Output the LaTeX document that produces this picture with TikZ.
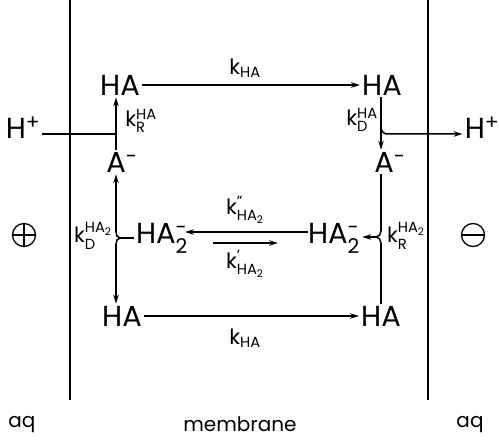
\documentclass[tikz,border=0pt]{standalone}
\usepackage{fontspec}
\setmainfont{Poppins}
\usepackage{amsmath}
\usetikzlibrary{arrows.meta,calc}
\tikzset{
  species/.style={inner sep=2pt, font=\fontsize{29}{33}\selectfont},
  ratelbl/.style={inner sep=1pt, font=\fontsize{21}{24}\selectfont},
  region/.style={inner sep=1pt, font=\fontsize{20}{24}\selectfont},
  conn/.style={line width=1.5pt},
  arr/.style={conn, -{Stealth[length=9pt,width=5.5pt]}},
  wall/.style={line width=1.2pt},
  charge/.style={draw, circle, line width=1.3pt, minimum size=23pt, inner sep=0pt}
}
\begin{document}
\begin{tikzpicture}[x=1pt,y=-1pt]
\useasboundingbox (0,0) rectangle (499,441);

% membrane walls
\coordinate (wLt) at (70,0);   \coordinate (wLb) at (70,400);
\coordinate (wRt) at (428,0);  \coordinate (wRb) at (428,400);
\draw[wall] (wLt) -- (wLb);
\draw[wall] (wRt) -- (wRb);

% species
\node[species] (haTL) at (120,85) {HA};
\node[species] (haTR) at (382,85) {HA};
\node[species] (amL) at (122,162) {A$^{\text{-}}$};
\node[species] (amR) at (390,162) {A$^{\text{-}}$};
\node[species] (hatwoL) at (162,238) {HA$^{\text{-}}_{\text{2}}$};
\node[species] (hatwoR) at (334,238) {HA$^{\text{-}}_{\text{2}}$};
\node[species] (haBL) at (122,316) {HA};
\node[species] (haBR) at (381,316) {HA};
\node[species] (hpL) at (23,128) {H$^{\text{+}}$};
\node[species] (hpR) at (482,128) {H$^{\text{+}}$};

% charges
\node[charge] (pos) at (24,235) {};
\draw[conn] (pos.north) -- (pos.south) (pos.west) -- (pos.east);
\node[charge] (neg) at (473,235) {};
\draw[conn] (neg.west) -- (neg.east);

% transport of HA across the membrane
\draw[arr] (haTL.east) -- (haTR.west);
\draw[arr] (haBL.east) -- (haBR.west);
\node[ratelbl] (kt) at (245,68) {k$_{\text{HA}}$};
\node[ratelbl] (kb) at (245,338) {k$_{\text{HA}}$};

% left interface: recombination
\coordinate (jTL) at (116,134);
\draw[arr] (amL.north -| jTL) -- (haTL.south -| jTL);
\draw[conn] (hpL.east |- jTL) -- (jTL);
\node[ratelbl] (kRHA) at (141,121) {k$^{\text{HA}}_{\text{R}}$};

% right interface: dissociation
\coordinate (jTR) at (381,134);
\draw[arr] (haTR.south -| jTR) -- (amR.north -| jTR);
\draw[arr] ($(jTR)+(0,-7)$) to[out=-90,in=180] ($(jTR)+(6,0)$) -- (hpR.west |- jTR);
\node[ratelbl] (kDHA) at (362,120) {k$^{\text{HA}}_{\text{D}}$};

% left dimer dissociation
\coordinate (jML) at (116,238);
\draw[arr] ($(jML)+(0,-6)$) -- (amL.south -| jML);
\draw[arr] ($(jML)+(0,6)$) -- (haBL.north -| jML);
\draw[conn] ($(jML)+(0,-6)$) to[out=-90,in=180] ($(jML)+(4,0)$) to[out=180,in=90] ($(jML)+(0,6)$);
\draw[conn] ($(jML)+(4,0)$) -- (hatwoL.west |- jML);
\node[ratelbl] (kDHA2) at (93,236) {k$^{\text{HA}_{\text{2}}}_{\text{D}}$};

% right dimer formation
\coordinate (jMR) at (381,237);
\draw[conn] (amR.south -| jMR) -- ($(jMR)+(0,-6)$);
\draw[conn] ($(jMR)+(0,6)$) -- (haBR.north -| jMR);
\draw[conn] ($(jMR)+(0,-6)$) to[out=-90,in=0] ($(jMR)+(-5,0)$) to[out=0,in=90] ($(jMR)+(0,6)$);
\draw[arr] ($(jMR)+(-5,0)$) -- (hatwoR.east |- jMR);
\node[ratelbl] (kRHA2) at (406,236) {k$^{\text{HA}_{\text{2}}}_{\text{R}}$};

% dimer transport
\coordinate (dUr) at (308,232); \coordinate (dUl) at (185,232);
\coordinate (dLl) at (213,243); \coordinate (dLr) at (278,243);
\draw[arr] (dUr) -- (dUl);
\draw[arr] (dLl) -- (dLr);
\node[ratelbl] (kpp) at (245,210) {k$^{\text{''}}_{\text{HA}_{\text{2}}}$};
\node[ratelbl] (kp) at (245,264) {k$^{\text{'}}_{\text{HA}_{\text{2}}}$};

% phase labels
\node[region] (aqL) at (22,425) {aq};
\node[region] (mem) at (240,424) {membrane};
\node[region] (aqR) at (470,425) {aq};
\end{tikzpicture}
\end{document}
